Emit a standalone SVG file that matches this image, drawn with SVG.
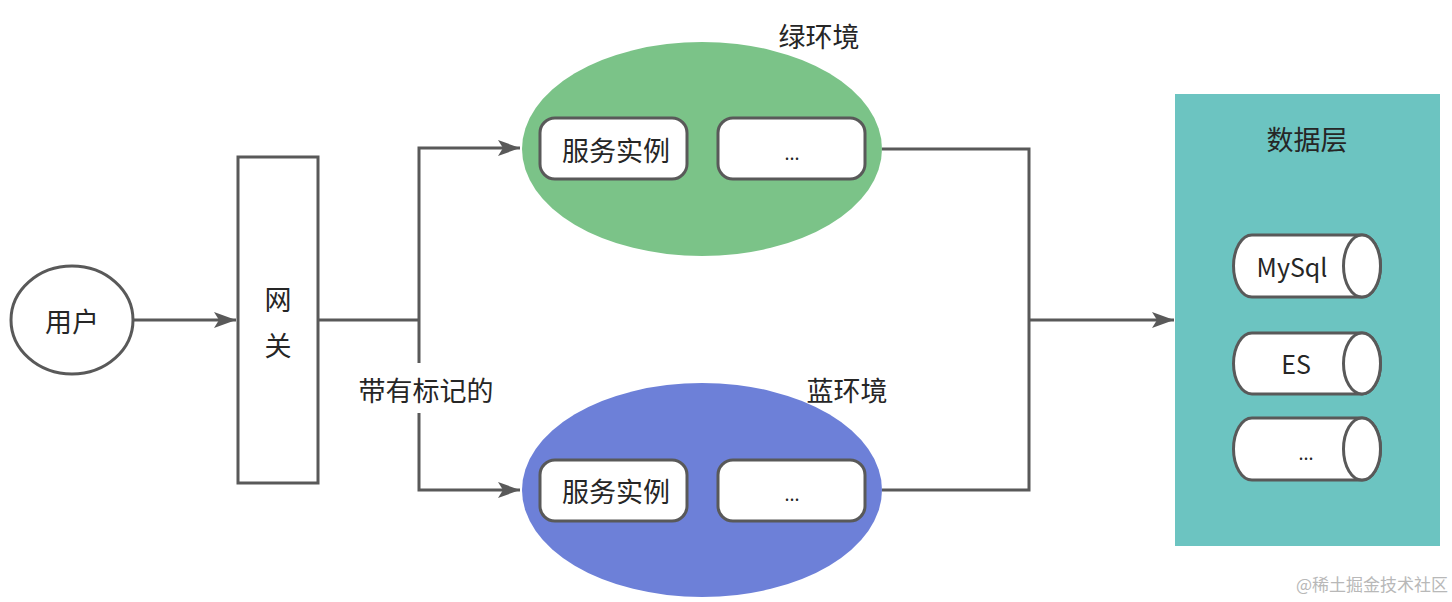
<svg xmlns="http://www.w3.org/2000/svg" width="1452" height="602" viewBox="0 0 1452 602">
<style>
.t{font-family:"Noto Sans CJK SC","Liberation Sans",sans-serif;fill:#262626;text-anchor:middle;dominant-baseline:central}
.ln{fill:none;stroke:#595959;stroke-width:3}
.box{fill:#ffffff;stroke:#595959;stroke-width:3}
</style>
<defs>
<marker id="ah" viewBox="0 0 22 16" refX="22" refY="8" markerWidth="22" markerHeight="16" markerUnits="userSpaceOnUse" orient="auto">
<path d="M0,0 L22,8 L0,16 L5,8 Z" fill="#595959"/>
</marker>
</defs>
<rect width="1452" height="602" fill="#ffffff"/>
<g id="connectors">
<line class="ln" x1="133" y1="320" x2="236" y2="320" marker-end="url(#ah)"/>
<polyline class="ln" points="318,320 419,320"/>
<polyline class="ln" points="419,363 419,148 520,148" marker-end="url(#ah)"/>
<polyline class="ln" points="419,413 419,490 520,490" marker-end="url(#ah)"/>
<polyline class="ln" points="882,149 1029,149 1029,490 882,490"/>
<line class="ln" x1="1029" y1="320" x2="1174" y2="320" marker-end="url(#ah)"/>
<text class="t" x="426" y="389" font-size="27">带有标记的</text>
</g>
<g id="user">
<ellipse class="box" cx="72" cy="320" rx="61" ry="54"/>
<text class="t" x="72" y="320" font-size="27">用户</text>
</g>
<g id="gateway">
<rect class="box" x="238" y="157" width="80" height="326"/>
<text class="t" x="278" y="298" font-size="27">网</text>
<text class="t" x="278" y="344" font-size="27">关</text>
</g>
<g id="green-env">
<ellipse cx="702" cy="149" rx="180" ry="107" fill="#7bc388"/>
<text class="t" x="819" y="35" font-size="27">绿环境</text>
<rect class="box" x="540" y="118" width="147" height="61" rx="15"/>
<text class="t" x="616" y="149" font-size="27">服务实例</text>
<rect class="box" x="718" y="118" width="147" height="61" rx="15"/>
<text class="t" x="792" y="152" font-size="18">...</text>
</g>
<g id="blue-env">
<ellipse cx="702" cy="490" rx="180" ry="107" fill="#6d80d8"/>
<text class="t" x="847" y="389" font-size="27">蓝环境</text>
<rect class="box" x="540" y="460" width="147" height="61" rx="15"/>
<text class="t" x="616" y="490" font-size="27">服务实例</text>
<rect class="box" x="718" y="460" width="147" height="61" rx="15"/>
<text class="t" x="792" y="493" font-size="18">...</text>
</g>
<g id="data-layer">
<rect x="1175" y="94" width="265" height="452" fill="#6cc4c1"/>
<text class="t" x="1307" y="138" font-size="27">数据层</text>
</g>
<g id="mysql">
<path class="box" d="M1252,235 H1362 A18.5,31 0 0 1 1362,297 H1252 A18.5,31 0 0 1 1252,235 Z"/>
<ellipse class="box" cx="1362" cy="266" rx="18.5" ry="31"/>
<text class="t" x="1292" y="266" font-size="25">MySql</text>
</g>
<g id="es">
<path class="box" d="M1252,333 H1362 A18.5,30.5 0 0 1 1362,394 H1252 A18.5,30.5 0 0 1 1252,333 Z"/>
<ellipse class="box" cx="1362" cy="363.5" rx="18.5" ry="30.5"/>
<text class="t" x="1296" y="363" font-size="25">ES</text>
</g>
<g id="db-more">
<path class="box" d="M1252,418 H1362 A18.5,31 0 0 1 1362,480 H1252 A18.5,31 0 0 1 1252,418 Z"/>
<ellipse class="box" cx="1362" cy="449" rx="18.5" ry="31"/>
<text class="t" x="1306" y="452" font-size="18">...</text>
</g>
<text x="1448" y="583" font-family="Noto Sans CJK SC, Liberation Sans, sans-serif" font-size="17" fill="#b8b8b8" text-anchor="end" dominant-baseline="central">@稀土掘金技术社区</text>
</svg>
